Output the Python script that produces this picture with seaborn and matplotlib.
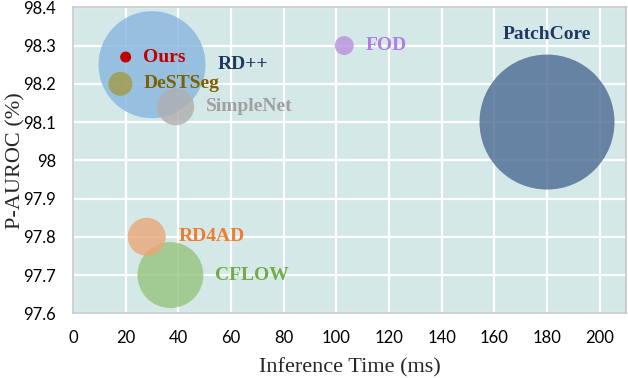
import numpy as np
import pandas as pd
import seaborn as sns
import matplotlib.pyplot as plt

# data
methods = ["RD++", "PatchCore", "CFLOW", "RD4AD", "SimpleNet", "DeSTSeg", "FOD", "Ours"]
inference_ms = [30, 180, 37, 28, 39, 18, 103, 20]
p_auroc = [98.25, 98.10, 97.70, 97.80, 98.14, 98.20, 98.30, 98.27]
bubble_diam = [107, 135, 66, 38, 37, 24, 19, 11]   # bubble diameter (px)

x_ticks = [0, 20, 40, 60, 80, 100, 120, 140, 160, 180, 200]
y_ticks = [97.6, 97.7, 97.8, 97.9, 98.0, 98.1, 98.2, 98.3, 98.4]
y_tick_labels = ["97.6", "97.7", "97.8", "97.9", "98", "98.1", "98.2", "98.3", "98.4"]

# styling
fill_colors = {"RD++": "#87b5de", "PatchCore": "#4c6a92", "CFLOW": "#96c47e",
               "RD4AD": "#eaa677", "SimpleNet": "#b0aeae", "DeSTSeg": "#a39b45",
               "FOD": "#bb90de", "Ours": "#c00000"}
text_colors = {"RD++": "#1f3864", "PatchCore": "#1f3864", "CFLOW": "#70ad47",
               "RD4AD": "#ed7d31", "SimpleNet": "#a0a0a0", "DeSTSeg": "#7f6000",
               "FOD": "#b07ee0", "Ours": "#c00000"}
# label anchor (x, y, horizontal alignment)
label_pos = {"RD++": (55, 98.25, "left"), "PatchCore": (180, 98.33, "center"),
             "CFLOW": (54, 97.70, "left"), "RD4AD": (40, 97.80, "left"),
             "SimpleNet": (50.5, 98.14, "left"), "DeSTSeg": (27, 98.20, "left"),
             "FOD": (111, 98.30, "left"), "Ours": (26.6, 98.27, "left")}

df = pd.DataFrame({"method": methods, "time": inference_ms, "auroc": p_auroc,
                   "diam": bubble_diam})

sns.set_style("whitegrid", {"axes.facecolor": "#d5e8e8", "grid.color": "white",
                            "axes.edgecolor": "#c8c8c8"})

fig = plt.figure(figsize=(6.28, 3.78), dpi=100)
ax = fig.add_axes([73 / 628, 1 - 313.3 / 378, 553 / 628, 306 / 378])

for _, row in df.iterrows():
    m = row["method"]
    s = (row["diam"] * 0.72) ** 2
    sns.scatterplot(x=[row["time"]], y=[row["auroc"]], s=s, color=fill_colors[m],
                    alpha=1.0 if m == "Ours" else 0.8, edgecolor="none",
                    ax=ax, zorder=3, legend=False)
    lx, ly, ha = label_pos[m]
    ax.text(lx, ly, m, color=text_colors[m], fontsize=14, fontweight="bold",
            family="Liberation Serif", ha=ha, va="center", zorder=4)

ax.set_xlim(0, 210)
ax.set_ylim(97.6, 98.4)
ax.set_xticks(x_ticks)
ax.set_yticks(y_ticks)
ax.set_yticklabels(y_tick_labels)
for lab in ax.get_xticklabels() + ax.get_yticklabels():
    lab.set_family("Lato")
    lab.set_fontsize(12)
    lab.set_color("black")
ax.tick_params(axis="x", length=0, pad=12)
ax.tick_params(axis="y", length=0, pad=12)
ax.grid(True, color="white", linewidth=1.6)
ax.set_axisbelow(True)
for side in ["left", "bottom", "top", "right"]:
    ax.spines[side].set_color("#c8c8c8")
    ax.spines[side].set_linewidth(1.2)

ax.set_xlabel("Inference Time (ms)", family="Liberation Serif", fontsize=16, labelpad=9)
ax.set_ylabel("P-AUROC (%)", family="Liberation Serif", fontsize=16)
ax.yaxis.set_label_coords(-0.086, 0.5)

fig.savefig("out.png", dpi=100)
